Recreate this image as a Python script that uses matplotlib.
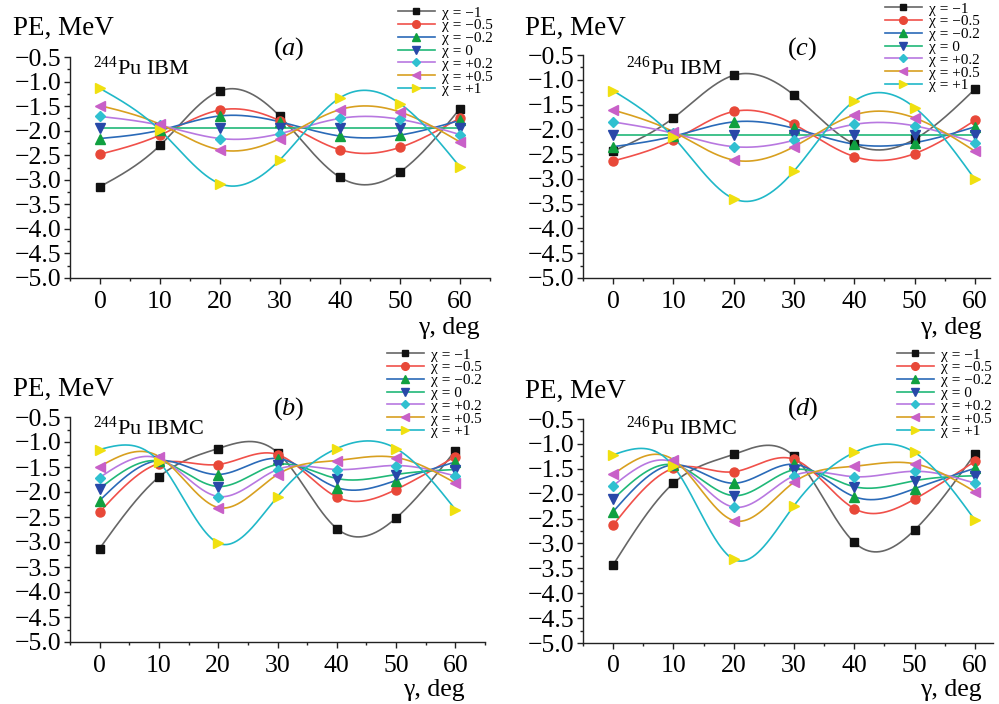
import numpy as np
import matplotlib
matplotlib.use("Agg")
import matplotlib.pyplot as plt
from matplotlib.lines import Line2D
from matplotlib.ticker import MultipleLocator, FuncFormatter

plt.rcParams["font.family"] = ["Liberation Serif", "DejaVu Serif"]
plt.rcParams["mathtext.fontset"] = "custom"
plt.rcParams["mathtext.rm"] = "Liberation Serif"
plt.rcParams["mathtext.it"] = "Liberation Serif:italic"

# gamma, deg
gamma = [0, 10, 20, 30, 40, 50, 60]

chi_labels = ["χ = −1", "χ = −0.5", "χ = −0.2", "χ = 0",
              "χ = +0.2", "χ = +0.5", "χ = +1"]

# PE, MeV for chi = -1, -0.5, -0.2, 0, +0.2, +0.5, +1
pe_244_ibm = [
    [-3.14, -2.30, -1.19, -1.71, -2.95, -2.84, -1.55],
    [-2.48, -2.09, -1.58, -1.80, -2.39, -2.34, -1.74],
    [-2.16, -1.99, -1.70, -1.82, -2.11, -2.09, -1.79],
    [-1.94, -1.94, -1.94, -1.94, -1.94, -1.94, -1.94],
    [-1.71, -1.89, -2.16, -2.06, -1.75, -1.77, -2.08],
    [-1.49, -1.87, -2.39, -2.16, -1.57, -1.62, -2.23],
    [-1.14, -1.99, -3.08, -2.59, -1.33, -1.45, -2.74],
]
pe_246_ibm = [
    [-2.44, -1.77, -0.91, -1.31, -2.30, -2.20, -1.19],
    [-2.64, -2.22, -1.64, -1.90, -2.55, -2.49, -1.82],
    [-2.35, -2.14, -1.85, -1.98, -2.30, -2.27, -1.95],
    [-2.12, -2.12, -2.12, -2.12, -2.12, -2.12, -2.12],
    [-1.85, -2.08, -2.35, -2.22, -1.90, -1.93, -2.27],
    [-1.61, -2.05, -2.62, -2.35, -1.71, -1.77, -2.44],
    [-1.22, -2.16, -3.40, -2.84, -1.43, -1.56, -3.01],
]
pe_244_ibmc = [
    [-3.13, -1.70, -1.13, -1.21, -2.73, -2.52, -1.17],
    [-2.40, -1.43, -1.45, -1.25, -2.10, -1.95, -1.29],
    [-2.17, -1.37, -1.65, -1.33, -1.91, -1.77, -1.40],
    [-1.93, -1.38, -1.89, -1.45, -1.73, -1.65, -1.55],
    [-1.71, -1.33, -2.09, -1.55, -1.55, -1.47, -1.68],
    [-1.49, -1.29, -2.31, -1.65, -1.37, -1.31, -1.82],
    [-1.15, -1.39, -3.02, -2.09, -1.13, -1.13, -2.35],
]
pe_246_ibmc = [
    [-3.43, -1.79, -1.21, -1.25, -2.98, -2.73, -1.20],
    [-2.63, -1.49, -1.56, -1.31, -2.30, -2.11, -1.35],
    [-2.36, -1.42, -1.79, -1.41, -2.06, -1.90, -1.49],
    [-2.11, -1.42, -2.04, -1.52, -1.86, -1.74, -1.64],
    [-1.84, -1.37, -2.27, -1.64, -1.66, -1.55, -1.79],
    [-1.61, -1.32, -2.54, -1.77, -1.45, -1.40, -1.96],
    [-1.22, -1.45, -3.32, -2.24, -1.17, -1.17, -2.53],
]

line_colors = ["#666666", "#f0504a", "#2a6ab8", "#20b878", "#b878e0", "#d8a020", "#20b8c8"]
marker_colors = ["#111111", "#e84838", "#10a040", "#2848a8", "#30c0d0", "#c860c8", "#f0e010"]
markers = ["s", "o", "^", "v", "D", "<", ">"]
msizes = [6, 6.5, 7, 7, 5.5, 7, 7]

W, H = 999, 704


def spline(x, y, n=400):
    # natural cubic spline through the points, used only to draw the smooth curve
    x = np.asarray(x, float)
    y = np.asarray(y, float)
    k = len(x)
    h = np.diff(x)
    A = np.zeros((k, k))
    b = np.zeros(k)
    A[0, 0] = A[-1, -1] = 1
    for i in range(1, k - 1):
        A[i, i - 1] = h[i - 1]
        A[i, i] = 2 * (h[i - 1] + h[i])
        A[i, i + 1] = h[i]
        b[i] = 6 * ((y[i + 1] - y[i]) / h[i] - (y[i] - y[i - 1]) / h[i - 1])
    M = np.linalg.solve(A, b)
    xs = np.linspace(x[0], x[-1], n)
    idx = np.clip(np.searchsorted(x, xs) - 1, 0, k - 2)
    x0, x1 = x[idx], x[idx + 1]
    hh = x1 - x0
    t0, t1 = x1 - xs, xs - x0
    ys = (M[idx] * t0 ** 3 + M[idx + 1] * t1 ** 3) / (6 * hh) \
        + (y[idx] / hh - M[idx] * hh / 6) * t0 + (y[idx + 1] / hh - M[idx + 1] * hh / 6) * t1
    return xs, ys


def fx(px):
    return px / W


def fy(py):
    return 1 - py / H


fig = plt.figure(figsize=(W / 100, H / 100), dpi=100)

panels = [
    # data, axes px (left, top, right, bottom), xmax, letter, isotope, text anchors
    dict(data=pe_244_ibm, box=(70, 57, 490, 278), xmax=65, letter="a", iso="$^{244}$Pu IBM",
         pe=(13, 35), let=(289, 55), isox=(93, 75), gam=(480, 334), leg=(398, 6)),
    dict(data=pe_246_ibm, box=(583, 55, 990, 278), xmax=62.5, letter="c", iso="$^{246}$Pu IBM",
         pe=(525, 35), let=(802, 55), isox=(626, 75), gam=(982, 334), leg=(885, 2)),
    dict(data=pe_244_ibmc, box=(70, 417, 485, 642), xmax=65, letter="b", iso="$^{244}$Pu IBMC",
         pe=(13, 396), let=(289, 415), isox=(93, 435), gam=(465, 696), leg=(387, 348)),
    dict(data=pe_246_ibmc, box=(583, 419, 993, 643), xmax=63, letter="d", iso="$^{246}$Pu IBMC",
         pe=(525, 398), let=(803, 415), isox=(626, 435), gam=(982, 696), leg=(897, 348)),
]

ytick_fmt = FuncFormatter(lambda v, p: f"{v:.1f}".replace("-", "\u2212"))

for p in panels:
    l, t, r, b = p["box"]
    ax = fig.add_axes([fx(l), fy(b), fx(r) - fx(l), fy(t) - fy(b)])
    for i, series in enumerate(p["data"]):
        xs, ys = spline(gamma, series)
        ax.plot(xs, ys, color=line_colors[i], lw=1.2, zorder=2)
        ax.plot(gamma, series, ls="none", marker=markers[i], ms=msizes[i],
                mfc=marker_colors[i], mec=marker_colors[i], zorder=3)
    ax.set_xlim(-5, p["xmax"])
    ax.set_ylim(-5.0, -0.5)
    ax.spines["top"].set_visible(False)
    ax.spines["right"].set_visible(False)
    for s in ("left", "bottom"):
        ax.spines[s].set_linewidth(1.0)
        ax.spines[s].set_color("#222222")
    ax.xaxis.set_major_locator(MultipleLocator(10))
    ax.xaxis.set_minor_locator(MultipleLocator(5))
    ax.yaxis.set_major_locator(MultipleLocator(0.5))
    ax.yaxis.set_minor_locator(MultipleLocator(0.25))
    ax.yaxis.set_major_formatter(ytick_fmt)
    ax.tick_params(which="major", direction="out", length=4, width=1, labelsize=18.5,
                   color="#222222")
    ax.tick_params(which="minor", direction="out", length=2.5, width=1, color="#222222")
    ax.tick_params(axis="x", pad=5)
    ax.tick_params(axis="y", pad=2)

    fig.text(fx(p["pe"][0]), fy(p["pe"][1]), "PE, MeV", fontsize=19.5, va="baseline", ha="left")
    fig.text(fx(p["let"][0]), fy(p["let"][1]), f"$($$\\mathit{{{p['letter']}}}$$)$",
             fontsize=19, va="baseline", ha="center")
    fig.text(fx(p["isox"][0]), fy(p["isox"][1]), p["iso"], fontsize=16, va="baseline", ha="left")
    fig.text(fx(p["gam"][0]), fy(p["gam"][1]), "γ, deg", fontsize=18.5, va="baseline", ha="right")

    handles = [Line2D([0], [0], color=line_colors[i], lw=1.2, marker=markers[i],
                      ms=msizes[i] - 1, mfc=marker_colors[i], mec=marker_colors[i])
               for i in range(len(chi_labels))]
    ax.legend(handles, chi_labels, loc="upper left",
              bbox_to_anchor=(fx(p["leg"][0]), fy(p["leg"][1])),
              bbox_transform=fig.transFigure, frameon=False, fontsize=11,
              borderpad=0, borderaxespad=0, handlelength=2.4, handletextpad=0.45,
              labelspacing=-0.06)

fig.savefig("out.png", dpi=100)
